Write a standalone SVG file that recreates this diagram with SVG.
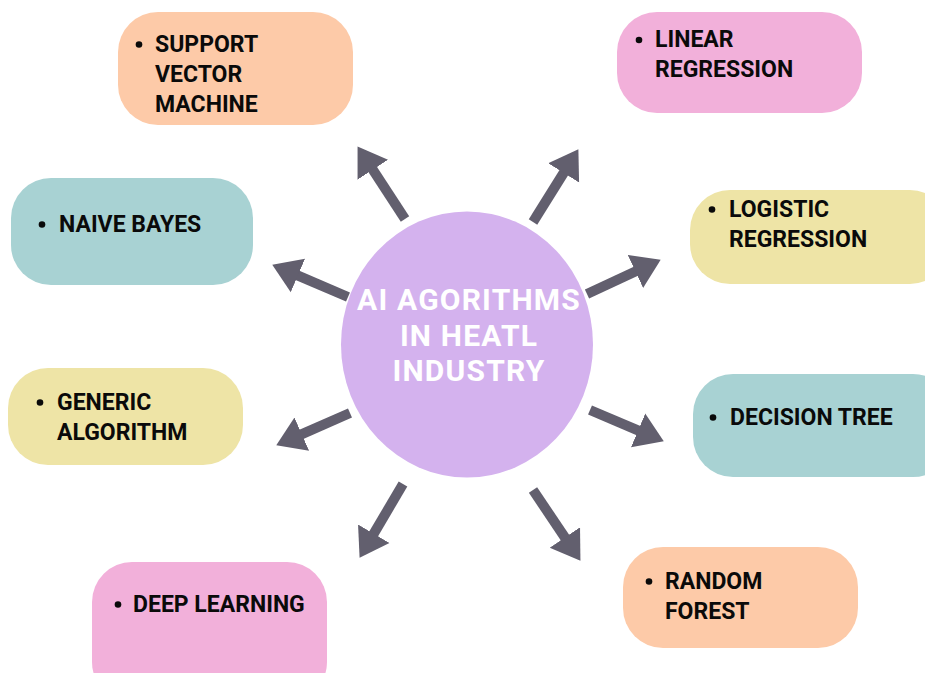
<svg xmlns="http://www.w3.org/2000/svg" width="925" height="673" viewBox="0 0 925 673">
<style>
.lbl{font-family:Roboto,"Liberation Sans",sans-serif;font-weight:700;font-size:23px;fill:#0a0a0a}
.ctr{font-family:Roboto,"Liberation Sans",sans-serif;font-weight:700;font-size:30px;letter-spacing:1.2px;fill:#ffffff;text-anchor:middle}
.arr{stroke:#625f6e;stroke-width:10;fill:none;marker-end:url(#head)}
.peach{fill:#fdcaa8}.pink{fill:#f2b0da}.teal{fill:#a8d2d3}.yellow{fill:#eee4a6}
.dot{fill:#0a0a0a}
</style>
<defs>
<marker id="head" markerUnits="userSpaceOnUse" markerWidth="30" markerHeight="40" viewBox="0 -18 28 36" refX="1" refY="0" orient="auto">
<path d="M0,-17 L26,0 L0,17 Z" fill="#625f6e"/>
</marker>
</defs>
<rect width="925" height="673" fill="#ffffff"/>
<g id="connectors">
<line class="arr" x1="405" y1="219" x2="372.2" y2="168.8"/>
<line class="arr" x1="533" y1="222" x2="564.2" y2="172"/>
<line class="arr" x1="587" y1="294" x2="636.4" y2="271"/>
<line class="arr" x1="348" y1="297" x2="296.9" y2="275.2"/>
<line class="arr" x1="350" y1="413" x2="300.8" y2="434.6"/>
<line class="arr" x1="403" y1="484" x2="373.2" y2="534.6"/>
<line class="arr" x1="590" y1="410" x2="639.1" y2="430.8"/>
<line class="arr" x1="533" y1="490" x2="565.5" y2="538.4"/>
</g>
<g id="center">
<ellipse cx="467" cy="344.5" rx="126" ry="133" fill="#d4b2ee"/>
<text class="ctr" x="469" y="310">AI AGORITHMS<tspan x="469" dy="35.5">IN HEATL</tspan><tspan x="469" dy="35.5">INDUSTRY</tspan></text>
</g>
<g id="svm">
<rect class="peach" x="118" y="12" width="235" height="113" rx="40"/>
<circle class="dot" cx="139" cy="44.5" r="3.3"/>
<text class="lbl" x="155" y="52">SUPPORT<tspan x="155" dy="30">VECTOR</tspan><tspan x="155" dy="30">MACHINE</tspan></text>
</g>
<g id="linear">
<rect class="pink" x="617" y="12" width="245" height="101" rx="40"/>
<circle class="dot" cx="639" cy="40" r="3.3"/>
<text class="lbl" x="655" y="47">LINEAR<tspan x="655" dy="30">REGRESSION</tspan></text>
</g>
<g id="naive">
<rect class="teal" x="11" y="178" width="242" height="107" rx="40"/>
<circle class="dot" cx="42" cy="224.5" r="3.3"/>
<text class="lbl" x="59" y="232">NAIVE BAYES</text>
</g>
<g id="logistic">
<rect class="yellow" x="690" y="190" width="260" height="94" rx="40"/>
<circle class="dot" cx="712" cy="209.5" r="3.3"/>
<text class="lbl" x="729" y="217">LOGISTIC<tspan x="729" dy="30">REGRESSION</tspan></text>
</g>
<g id="generic">
<rect class="yellow" x="8" y="368" width="235" height="97" rx="40"/>
<circle class="dot" cx="40" cy="402.5" r="3.3"/>
<text class="lbl" x="57" y="410">GENERIC<tspan x="57" dy="30">ALGORITHM</tspan></text>
</g>
<g id="decision">
<rect class="teal" x="693" y="374" width="260" height="103" rx="40"/>
<circle class="dot" cx="713" cy="417.5" r="3.3"/>
<text class="lbl" x="730" y="425">DECISION TREE</text>
</g>
<g id="deep">
<rect class="pink" x="92" y="562" width="235" height="140" rx="40"/>
<circle class="dot" cx="118" cy="604.5" r="3.3"/>
<text class="lbl" x="133" y="612">DEEP LEARNING</text>
</g>
<g id="random">
<rect class="peach" x="623" y="547" width="235" height="101" rx="40"/>
<circle class="dot" cx="649" cy="581.5" r="3.3"/>
<text class="lbl" x="665" y="589">RANDOM<tspan x="665" dy="30">FOREST</tspan></text>
</g>
</svg>
